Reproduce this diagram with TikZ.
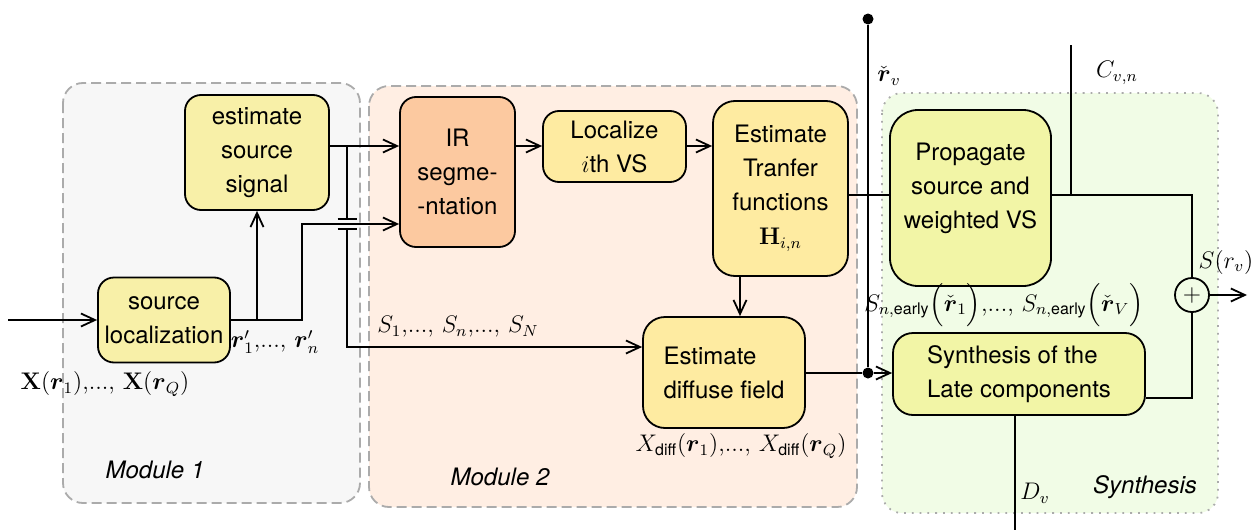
\documentclass[tikz,border=0pt]{standalone}
\usepackage{amsmath,amssymb}
\usepackage[no-math]{fontspec}
\setsansfont{TeX Gyre Heros}
\usetikzlibrary{arrows.meta}

\definecolor{modgray}{HTML}{F7F7F7}
\definecolor{modpeach}{HTML}{FFEEE3}
\definecolor{modgreen}{HTML}{F1FCE6}
\definecolor{modline}{HTML}{ABABAB}
\definecolor{ylwA}{HTML}{F8F0A8}
\definecolor{ylwB}{HTML}{FEEBA1}
\definecolor{ylwC}{HTML}{F2F5A6}
\definecolor{orng}{HTML}{FCC9A0}

\begin{document}
\begin{tikzpicture}[x=0.5pt,y=-0.5pt,
  font=\fontsize{12}{17}\selectfont\sffamily,
  box/.style={draw=black, line width=0.9pt, rounded corners=8pt, align=center, inner sep=0pt},
  wire/.style={line width=0.9pt},
  arr/.style={wire, -{Straight Barb[length=7pt,width=6.5pt,line width=0.9pt]}},
  module/.style={draw=modline, line width=0.9pt, dash pattern=on 5pt off 2.5pt, rounded corners=10pt},
  synmodule/.style={draw=modline, line width=0.9pt, dash pattern=on 0.9pt off 3pt, rounded corners=10pt},
  dot/.style={circle, fill=black, inner sep=0pt, minimum size=5.5pt},
  modlabel/.style={font=\fontsize{12}{14}\selectfont\sffamily\itshape},
  mathlabel/.style={font=\fontsize{12}{14}\selectfont\rmfamily, inner sep=0pt}]

\useasboundingbox (0,0) rectangle (1253,530);

% module backgrounds
\draw[module, fill=modgray] (63,83) rectangle (360,503);
\draw[module, fill=modpeach] (369,86) rectangle (857,507);
\draw[synmodule, fill=modgreen] (882,93) rectangle (1218,513);

\node[modlabel] (m1) at (155,470) {Module 1};
\node[modlabel] (m2) at (500,477) {Module 2};
\node[modlabel] (m3) at (1145,487) {Synthesis};

% blocks
\node[box, fill=ylwA, minimum width=72pt, minimum height=57.5pt] (ess) at (257,152.5) {estimate\\source\\signal};
\node[box, fill=ylwA, minimum width=66pt, minimum height=42.5pt] (sl) at (164,320) {source\\localization};
\node[box, fill=orng, minimum width=57.5pt, minimum height=75pt] (irs) at (457.5,172) {IR\\segme-\\-ntation};
\node[box, fill=ylwB, minimum width=71.5pt, minimum height=35.5pt] (loc) at (614.5,146.5) {Localize\\$i$th VS};
\node[box, fill=ylwB, rounded corners=11pt, minimum width=67.5pt, minimum height=87.5pt] (etf) at (780.5,188.5) {Estimate\\Tranfer\\functions\\$\mathbf{H}_{i,n}$};
\node[box, fill=ylwB, rounded corners=11pt, minimum width=81pt, minimum height=55.5pt, align=left] (edf) at (724,372.5) {Estimate\\diffuse field};
\node[box, fill=ylwC, rounded corners=14pt, minimum width=80.5pt, minimum height=88pt] (prop) at (970.5,198) {};
\node[align=center] (propt) at (970.5,188.5) {Propagate\\source and\\weighted VS};
\node[box, fill=ylwC, rounded corners=10pt, minimum width=126pt, minimum height=41pt, align=left] (syn) at (1019,374) {Synthesis of the\\Late components};
\node[circle, draw=black, line width=0.9pt, minimum size=17pt, inner sep=0pt] (sum) at (1192,295) {$+$};

% reference levels and junctions
\coordinate (yA) at (0,146);
\coordinate (yB) at (0,224);
\coordinate (yP) at (0,195);
\coordinate (yS) at (0,398);
\coordinate (xT) at (740,0);
\coordinate (in) at (8,320);
\coordinate (j1) at (257,320);
\coordinate (j2) at (302,320);
\coordinate (b0) at (347,146);
\coordinate (b1) at (347,219);
\coordinate (b2) at (347,229);
\coordinate (b3) at (347,347);
\coordinate (cTop) at (1071,45);
\coordinate (out) at (1247,295);
\coordinate (dOut) at (1015,530);
\node[dot] (dtop) at (868,19) {};
\node[dot] (dbot) at (868,373) {};

% connectors
\draw[arr] (in) -- (sl.west);
\draw[arr] (sl.east) -- (j2) |- (irs.west |- yB);
\draw[arr] (j1) -- (ess.south);
\draw[arr] (ess.east |- yA) -- (irs.west |- yA);
\draw[wire] (b0) -- (b1);
\draw[wire] ([xshift=-4.75pt]b1) -- ([xshift=4.75pt]b1);
\draw[wire] ([xshift=-4.75pt]b2) -- ([xshift=4.75pt]b2);
\draw[arr] (b2) -- (b3) -- (edf.west |- b3);
\draw[arr] (irs.east |- yA) -- (loc.west |- yA);
\draw[arr] (loc.east |- yA) -- (etf.west |- yA);
\draw[arr] (etf.south -| xT) -- (edf.north -| xT);
\draw[wire] (etf.east |- yP) -- (prop.west |- yP);
\draw[wire] (dtop) -- (dbot);
\draw[wire] (edf.east |- dbot) -- (dbot);
\draw[arr] (dbot) -- (syn.west |- dbot);
\draw[wire] (prop.east |- yP) -| (sum.north);
\draw[wire] (cTop) -- (cTop |- yP);
\draw[wire] (syn.east |- yS) -| (sum.south);
\draw[arr] (sum.east) -- (out);
\draw[wire] (syn.south -| dOut) -- (dOut);

% signal labels
\node[mathlabel] (lx) at (105,384) {$\mathbf{X}(\boldsymbol{r}_1)$,..., $\mathbf{X}(\boldsymbol{r}_Q)$};
\node[mathlabel] (lr) at (275,342) {$\boldsymbol{r}'_1$,..., $\boldsymbol{r}'_n$};
\node[mathlabel] (ls) at (458,327) {$S_1$,..., $S_n$,..., $S_N$};
\node[mathlabel] (lxd) at (741,446) {$X_{\textsf{diff}}(\boldsymbol{r}_1)$,..., $X_{\textsf{diff}}(\boldsymbol{r}_Q)$};
\node[mathlabel] (lse) at (1004,305) {$S_{n,\textsf{early}}\Bigl(\check{\boldsymbol{r}}_1\Bigr)$,..., $S_{n,\textsf{early}}\Bigl(\check{\boldsymbol{r}}_V\Bigr)$};
\node[mathlabel] (lrv) at (889,76) {$\check{\boldsymbol{r}}_v$};
\node[mathlabel] (lc) at (1117,73) {$C_{v,n}$};
\node[mathlabel] (lsr) at (1226,262) {$S(r_v)$};
\node[mathlabel] (ld) at (1035,493) {$D_v$};

\end{tikzpicture}
\end{document}
